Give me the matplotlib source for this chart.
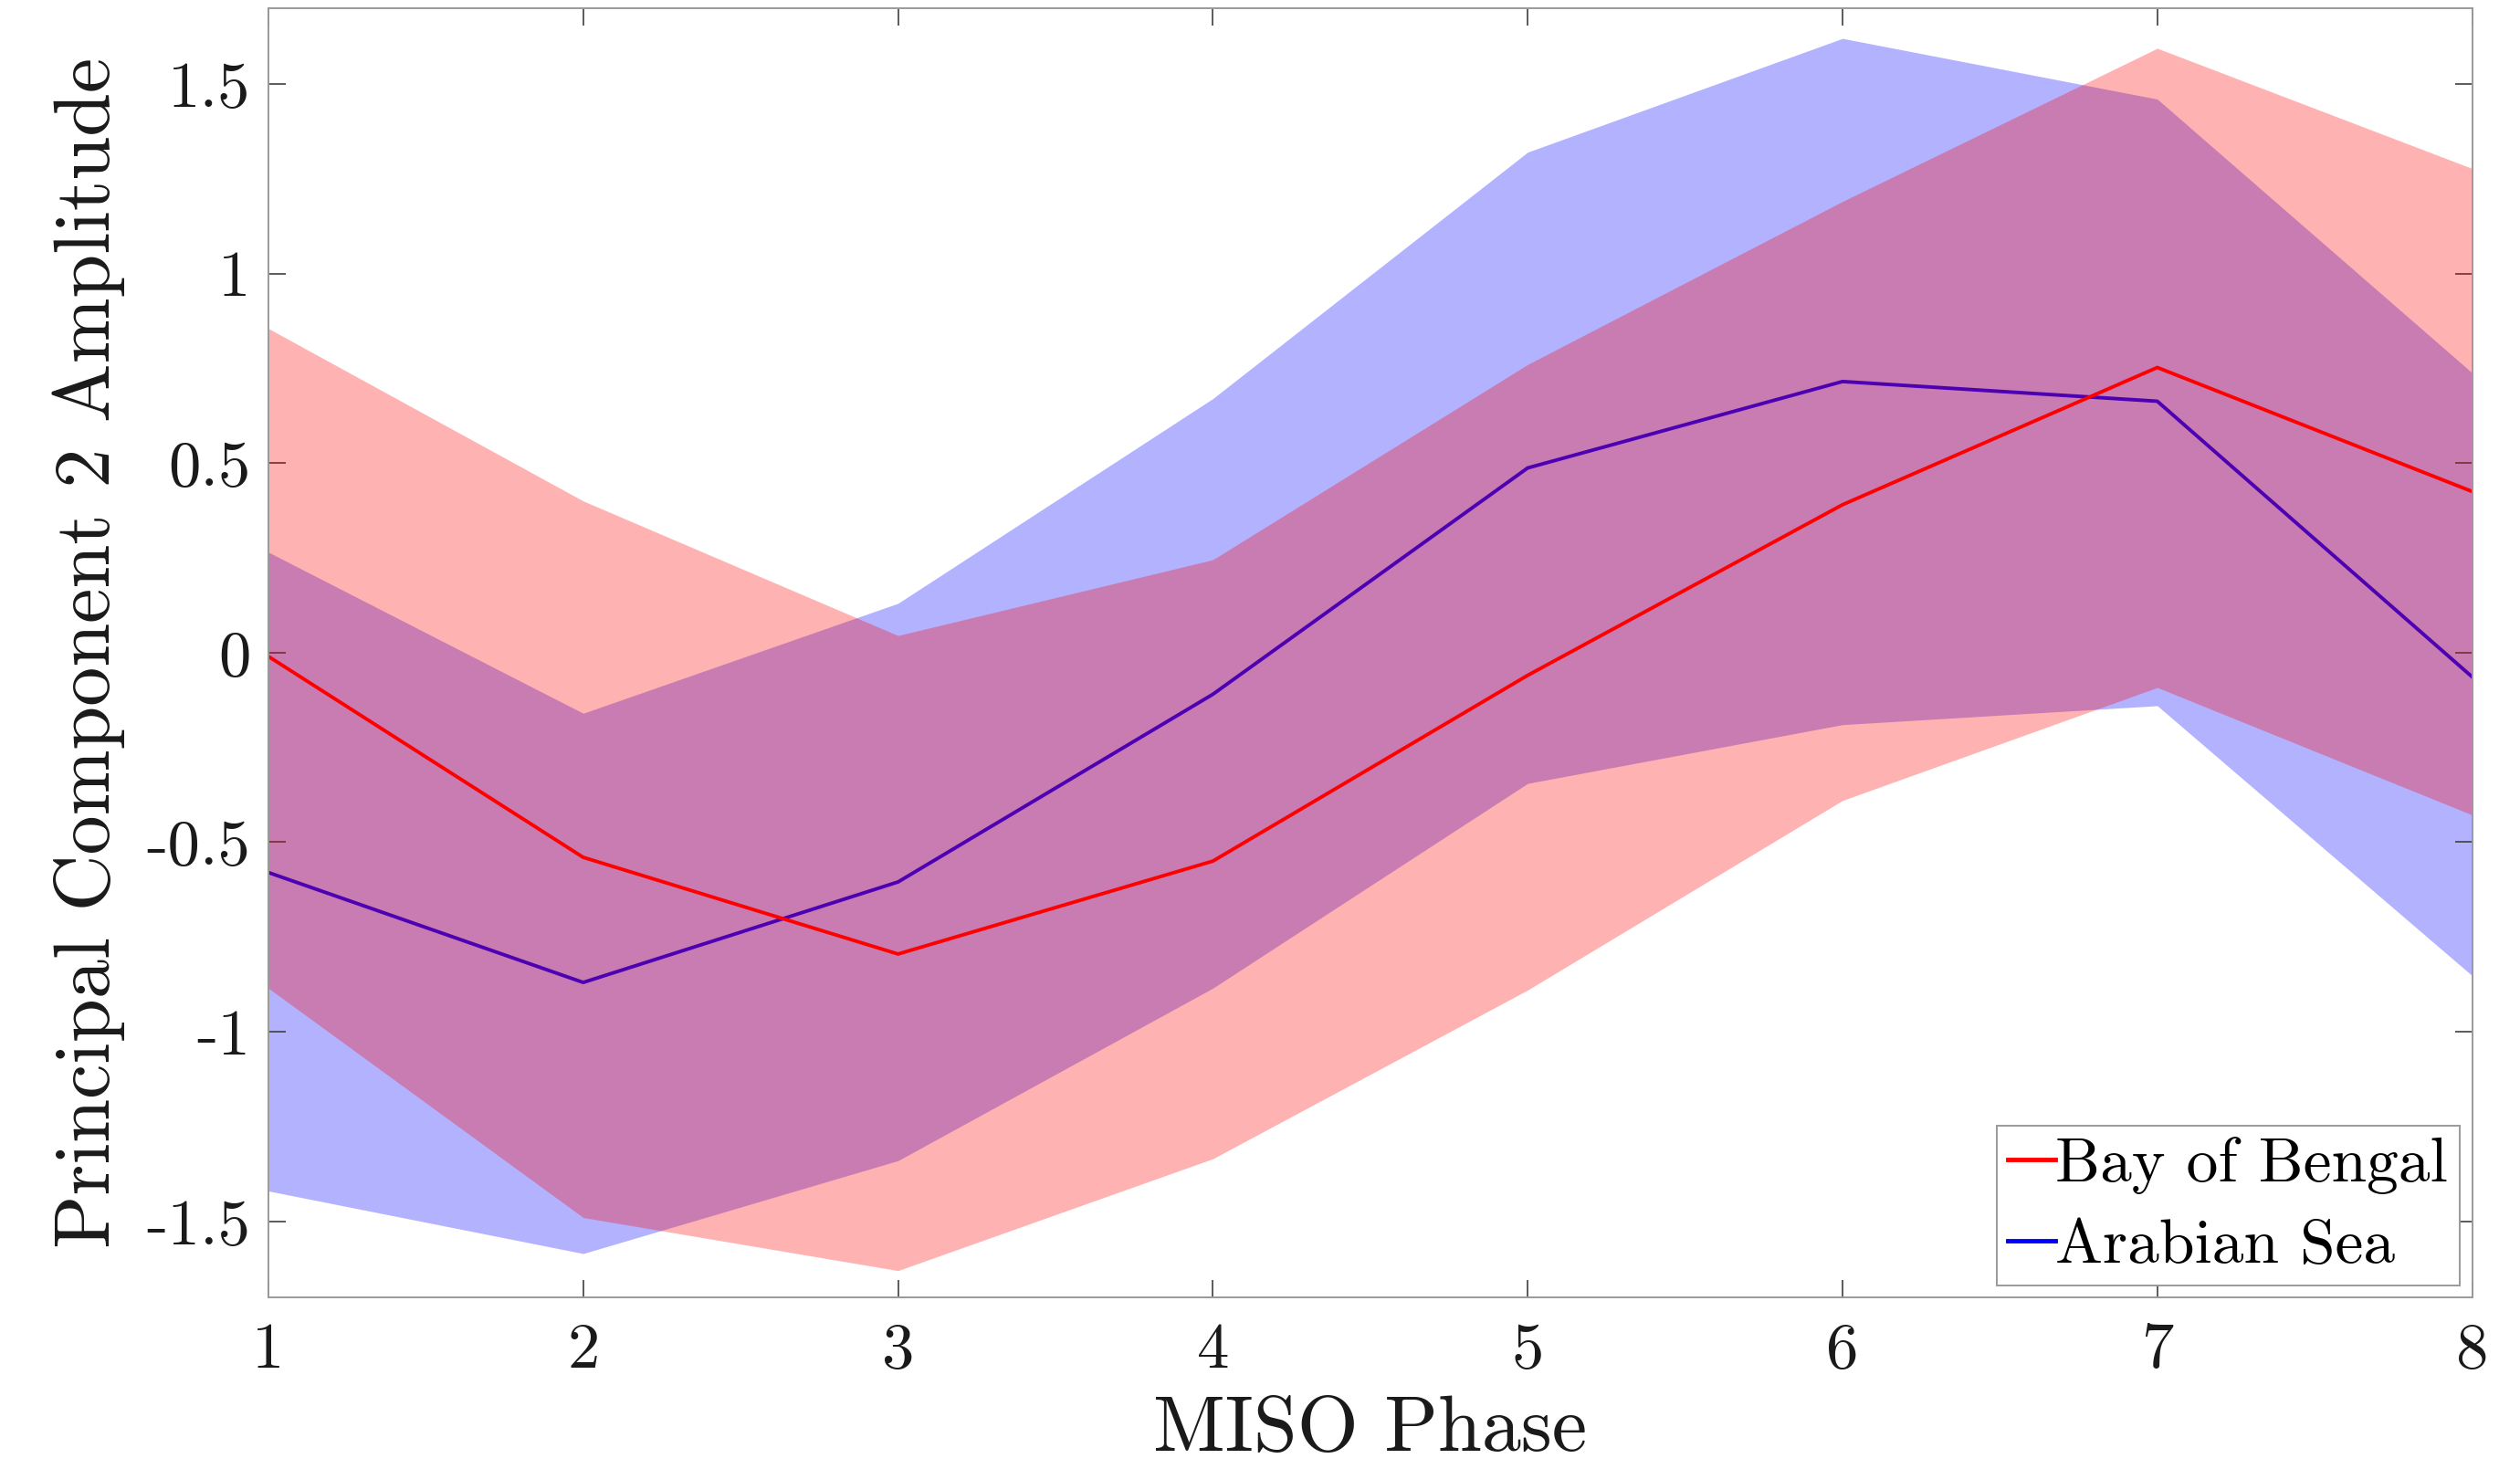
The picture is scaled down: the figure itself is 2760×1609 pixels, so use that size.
import matplotlib
matplotlib.use("Agg")
import matplotlib.pyplot as plt
import numpy as np

plt.rcParams['font.family'] = 'cmr10'
plt.rcParams['axes.unicode_minus'] = False
plt.rcParams['mathtext.fontset'] = 'cm'

# MISO phases
phase = [1, 2, 3, 4, 5, 6, 7, 8]

# Bay of Bengal: mean and shaded band
bob_mean = [-0.01, -0.54, -0.795, -0.55, -0.06, 0.39, 0.752, 0.425]
bob_upper = [0.855, 0.40, 0.045, 0.245, 0.76, 1.19, 1.594, 1.277]
bob_lower = [-0.885, -1.49, -1.63, -1.335, -0.89, -0.39, -0.092, -0.428]

# Arabian Sea: mean and shaded band
as_mean = [-0.58, -0.87, -0.605, -0.11, 0.487, 0.715, 0.663, -0.064]
as_upper = [0.265, -0.16, 0.13, 0.67, 1.32, 1.62, 1.46, 0.738]
as_lower = [-1.42, -1.585, -1.34, -0.885, -0.345, -0.19, -0.14, -0.852]

yticks = [-1.5, -1, -0.5, 0, 0.5, 1, 1.5]
ytick_labels = ['-1.5', '-1', '-0.5', '0', '0.5', '1', '1.5']

fig = plt.figure(figsize=(27.6, 16.09), dpi=100)
ax = fig.add_axes([0.1065, 0.117, 0.8745, 0.8775])

# draw order: blue band, blue line, red band, red line (blue line sits under red band)
ax.fill_between(phase, as_lower, as_upper, color='blue', alpha=0.3,
                linewidth=0, zorder=1)
as_line, = ax.plot(phase, as_mean, color='blue', linewidth=2.8, zorder=2)
ax.fill_between(phase, bob_lower, bob_upper, color='red', alpha=0.3,
                linewidth=0, zorder=3)
bob_line, = ax.plot(phase, bob_mean, color='red', linewidth=2.8, zorder=4)

ax.set_xlim(1, 8)
ax.set_ylim(-1.7, 1.7)
ax.set_xticks(phase)
ax.set_xticklabels([str(p) for p in phase])
ax.set_yticks(yticks)
ax.set_yticklabels(ytick_labels)

ax.tick_params(direction='in', length=14, width=1.2, colors='#404040',
               labelcolor='#1a1a1a', labelsize=51, top=True, right=True)
ax.tick_params(axis='x', pad=20)
ax.tick_params(axis='y', pad=14)
for sp in ax.spines.values():
    sp.set_color('#9a9a9a')
    sp.set_linewidth(1.4)
    sp.set_zorder(5)

ax.set_xlabel('MISO Phase', fontsize=62, color='#1a1a1a', labelpad=12)
ax.set_ylabel('Principal Component 2 Amplitude', fontsize=62, color='#1a1a1a',
              labelpad=17)

leg = ax.legend([bob_line, as_line], ['Bay of Bengal', 'Arabian Sea'],
                loc='lower right', bbox_to_anchor=(0.9942, 0.0087),
                fontsize=50, handlelength=0.75, handletextpad=0.0,
                borderpad=0.18, borderaxespad=0, labelspacing=0.38,
                fancybox=False, framealpha=1)
leg.get_frame().set_edgecolor('#9a9a9a')
leg.get_frame().set_linewidth(1.4)
leg.set_zorder(6)
for h in leg.get_lines():
    h.set_linewidth(3.5)

fig.savefig('out.png', dpi=100)
